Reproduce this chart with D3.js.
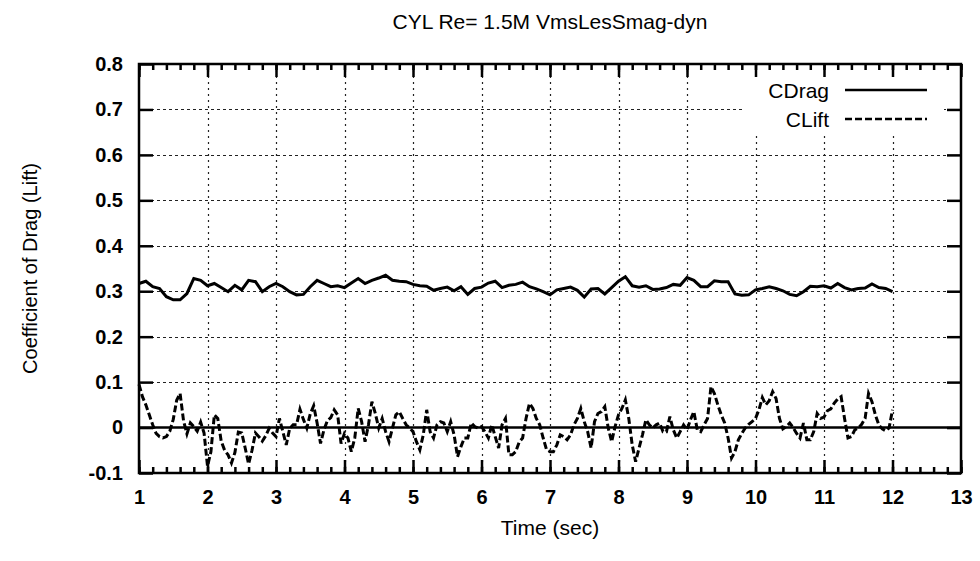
<!DOCTYPE html>
<html>
<head>
<meta charset="utf-8">
<script src="https://cdn.jsdelivr.net/npm/d3@7"></script>
<style>
  body { margin: 0; background: #fff; }
  text { font-family: "Liberation Sans", Arial, Helvetica, sans-serif; fill: #000; }
  .tick text { font-size: 20px; font-weight: bold; }
</style>
</head>
<body>
<div id="chart"></div>
<script>
// CYL Re=1.5M, drag and lift coefficients vs time
var title = "CYL Re= 1.5M VmsLesSmag-dyn";
var xLabel = "Time (sec)";
var yLabel = "Coefficient of Drag (Lift)";
var seriesNames = ["CDrag", "CLift"];

var xTicks = [1, 2, 3, 4, 5, 6, 7, 8, 9, 10, 11, 12, 13];
var yTicks = [-0.1, 0, 0.1, 0.2, 0.3, 0.4, 0.5, 0.6, 0.7, 0.8];

// drag sampled every 0.1 s from t=1 to t=12
var dragStep = 0.1;
var dragValues = [
  0.317, 0.322, 0.310, 0.306, 0.288, 0.281, 0.281, 0.295, 0.328, 0.324,
  0.312, 0.317, 0.308, 0.299, 0.313, 0.303, 0.324, 0.321, 0.299, 0.310,
  0.317, 0.310, 0.299, 0.292, 0.293, 0.310, 0.324, 0.317, 0.310, 0.312,
  0.308, 0.318, 0.328, 0.317, 0.324, 0.329, 0.335, 0.324, 0.322, 0.321,
  0.315, 0.312, 0.311, 0.302, 0.306, 0.309, 0.301, 0.310, 0.293, 0.306,
  0.309, 0.318, 0.322, 0.308, 0.313, 0.315, 0.320, 0.310, 0.305, 0.299,
  0.292, 0.303, 0.306, 0.309, 0.302, 0.287, 0.305, 0.306, 0.294, 0.308,
  0.322, 0.332, 0.312, 0.309, 0.312, 0.304, 0.305, 0.308, 0.315, 0.313,
  0.330, 0.324, 0.310, 0.310, 0.323, 0.321, 0.321, 0.294, 0.291, 0.292,
  0.303, 0.306, 0.310, 0.306, 0.301, 0.293, 0.290, 0.299, 0.311, 0.310,
  0.312, 0.307, 0.317, 0.308, 0.303, 0.306, 0.307, 0.316, 0.308, 0.306,
  0.299
];

// lift sampled every 0.05 s from t=1 to t=12
var liftStep = 0.05;
var liftValues = [
  0.095, 0.068, 0.050, 0.028, 0.006, -0.013, -0.020, -0.023, -0.020, -0.008,
  0.018, 0.060, 0.075, 0.015, -0.014, 0.010, 0.002, -0.008, 0.012, -0.012,
  -0.085, -0.053, 0.028, 0.020, -0.030, -0.050, -0.060, -0.078, -0.055, -0.010,
  -0.012, -0.045, -0.080, -0.050, -0.012, -0.020, -0.030, -0.018, -0.002, -0.012,
  -0.020, 0.020, -0.009, -0.038, -0.002, 0.006, 0.006, 0.040, 0.018, -0.001,
  0.030, 0.048, 0.010, -0.035, -0.005, 0.015, 0.022, 0.039, 0.028, -0.035,
  -0.013, -0.023, -0.053, -0.023, 0.042, 0.013, -0.031, 0.006, 0.057, 0.031,
  -0.001, 0.020, -0.009, -0.031, -0.001, 0.028, 0.035, 0.020, 0.006, -0.001,
  -0.009, -0.031, -0.049, -0.016, 0.039, -0.009, -0.023, 0.006, 0.013, 0.010,
  -0.009, 0.013, -0.016, -0.064, -0.042, -0.023, -0.023, 0.010, 0.002, -0.001,
  0.002, -0.009, -0.023, 0.006, -0.020, -0.045, 0.006, 0.020, -0.060, -0.060,
  -0.053, -0.032, -0.023, 0.020, 0.053, 0.042, 0.020, 0.006, -0.023, -0.049,
  -0.053, -0.053, -0.038, -0.016, -0.020, -0.027, -0.016, 0.006, 0.020, 0.042,
  0.013, -0.009, -0.045, 0.013, 0.031, 0.035, 0.046, -0.001, -0.031, 0.002,
  0.028, 0.042, 0.061, 0.020, -0.038, -0.075, -0.045, -0.016, 0.017, 0.006,
  -0.001, 0.006, 0.010, -0.009, -0.009, 0.024, -0.005, -0.023, -0.009, 0.006,
  -0.005, 0.017, 0.035, -0.005, -0.009, 0.006, 0.020, 0.090, 0.075, 0.050,
  0.028, 0.010, -0.023, -0.067, -0.053, -0.027, -0.013, -0.001, 0.007, 0.013,
  0.020, 0.039, 0.066, 0.050, 0.059, 0.079, 0.064, 0.020, -0.003, 0.002,
  0.010, 0.000, -0.013, -0.023, 0.010, -0.027, -0.027, -0.009, 0.031, 0.020,
  0.023, 0.037, 0.041, 0.054, 0.063, 0.068, 0.020, -0.023, -0.020, -0.005,
  -0.001, 0.007, 0.020, 0.075, 0.057, 0.028, 0.006, -0.003, -0.007, -0.001,
  0.039
];

var svgWidth = 980;
var svgHeight = 561;
var margin = { top: 64, right: 19, bottom: 88, left: 139 };
var width = svgWidth - margin.left - margin.right;
var height = svgHeight - margin.top - margin.bottom;

var svg = d3.select("#chart")
  .append("svg")
  .attr("width", svgWidth)
  .attr("height", svgHeight)
  .style("display", "block");

svg.append("rect").attr("width", svgWidth).attr("height", svgHeight).attr("fill", "#fff");

var chart = svg.append("g")
  .attr("transform", "translate(" + margin.left + "," + margin.top + ")");

var xScale = d3.scaleLinear().domain([1, 13]).range([0, width]);
var yScale = d3.scaleLinear().domain([-0.1, 0.8]).range([height, 0]);

var drag = dragValues.map(function(v, i) { return { t: 1 + i * dragStep, v: v }; });
var lift = liftValues.map(function(v, i) { return { t: 1 + i * liftStep, v: v }; });

var fmt = function(d) { return String(Math.round(d * 10) / 10); };

// grid (dotted), skip the border positions and the zero line
chart.append("g").selectAll("line")
  .data(xTicks.slice(1, -1))
  .enter().append("line")
  .attr("x1", function(d) { return Math.round(xScale(d)) + 0.5; })
  .attr("x2", function(d) { return Math.round(xScale(d)) + 0.5; })
  .attr("y1", 0).attr("y2", height)
  .attr("stroke", "#222").attr("stroke-width", 1.2)
  .attr("stroke-dasharray", "2,4");

chart.append("g").selectAll("line")
  .data(yTicks.filter(function(d) { return d > -0.05 && d < 0.75 && Math.abs(d) > 1e-9; }))
  .enter().append("line")
  .attr("x1", 0).attr("x2", width)
  .attr("y1", function(d) { return Math.round(yScale(d)) + 0.5; })
  .attr("y2", function(d) { return Math.round(yScale(d)) + 0.5; })
  .attr("stroke", "#222").attr("stroke-width", 1.2)
  .attr("stroke-dasharray", "3,3");

// key box hides the grid behind it
var keyRight = 829 - margin.left;
chart.append("rect")
  .attr("x", 744 - margin.left).attr("y", 2)
  .attr("width", 200).attr("height", 67)
  .attr("fill", "#fff");

// zero axis
chart.append("line")
  .attr("x1", 0).attr("x2", width)
  .attr("y1", yScale(0)).attr("y2", yScale(0))
  .attr("stroke", "#000").attr("stroke-width", 2.5);

var line = d3.line()
  .x(function(d) { return xScale(d.t); })
  .y(function(d) { return yScale(d.v); });

chart.append("path")
  .datum(drag)
  .attr("d", line)
  .attr("fill", "none")
  .attr("stroke", "#000")
  .attr("stroke-width", 3);

chart.append("path")
  .datum(lift)
  .attr("d", line)
  .attr("fill", "none")
  .attr("stroke", "#000")
  .attr("stroke-width", 3)
  .attr("stroke-dasharray", "7,3");

// ticks, gnuplot style: pointing inward on all four sides
var minorX = d3.range(1, 13.001, 0.2);

function styleAxis(g) {
  g.select(".domain").remove();
  g.selectAll(".tick line").attr("stroke", "#000").attr("stroke-width", 2.5);
}

chart.append("g")
  .attr("transform", "translate(0," + height + ")")
  .call(d3.axisBottom(xScale).tickValues(minorX).tickSize(-6).tickFormat(""))
  .call(styleAxis);
chart.append("g")
  .call(d3.axisTop(xScale).tickValues(minorX).tickSize(-6).tickFormat(""))
  .call(styleAxis);

chart.append("g")
  .attr("transform", "translate(0," + height + ")")
  .call(d3.axisBottom(xScale).tickValues(xTicks).tickSizeInner(-13).tickSizeOuter(0).tickPadding(17).tickFormat(fmt))
  .call(styleAxis);
chart.append("g")
  .call(d3.axisTop(xScale).tickValues(xTicks).tickSizeInner(-13).tickSizeOuter(0).tickFormat(""))
  .call(styleAxis);
chart.append("g")
  .call(d3.axisLeft(yScale).tickValues(yTicks).tickSizeInner(-14).tickSizeOuter(0).tickPadding(16).tickFormat(fmt))
  .call(styleAxis);
chart.append("g")
  .attr("transform", "translate(" + width + ",0)")
  .call(d3.axisRight(yScale).tickValues(yTicks).tickSizeInner(-14).tickSizeOuter(0).tickFormat(""))
  .call(styleAxis);

// border
chart.append("rect")
  .attr("x", 0).attr("y", 0)
  .attr("width", width).attr("height", height)
  .attr("fill", "none").attr("stroke", "#000").attr("stroke-width", 2.5);

// key
var key = chart.append("g").attr("class", "key");
seriesNames.forEach(function(name, i) {
  var yk = 26 + i * 29;
  key.append("text")
    .attr("x", keyRight).attr("y", yk + 8)
    .attr("text-anchor", "end")
    .style("font-size", "21px")
    .text(name);
  key.append("line")
    .attr("x1", 845 - margin.left).attr("x2", 927 - margin.left)
    .attr("y1", yk).attr("y2", yk)
    .attr("stroke", "#000").attr("stroke-width", 2.5)
    .attr("stroke-dasharray", i === 1 ? "7,3" : null);
});

// titles
svg.append("text")
  .attr("x", margin.left + width / 2).attr("y", 29)
  .attr("text-anchor", "middle")
  .style("font-size", "21px")
  .text(title);

svg.append("text")
  .attr("x", margin.left + width / 2).attr("y", 535)
  .attr("text-anchor", "middle")
  .style("font-size", "21px")
  .text(xLabel);

svg.append("text")
  .attr("transform", "rotate(-90)")
  .attr("x", -(margin.top + height / 2)).attr("y", 37)
  .attr("text-anchor", "middle")
  .style("font-size", "20px")
  .text(yLabel);
</script>
</body>
</html>
